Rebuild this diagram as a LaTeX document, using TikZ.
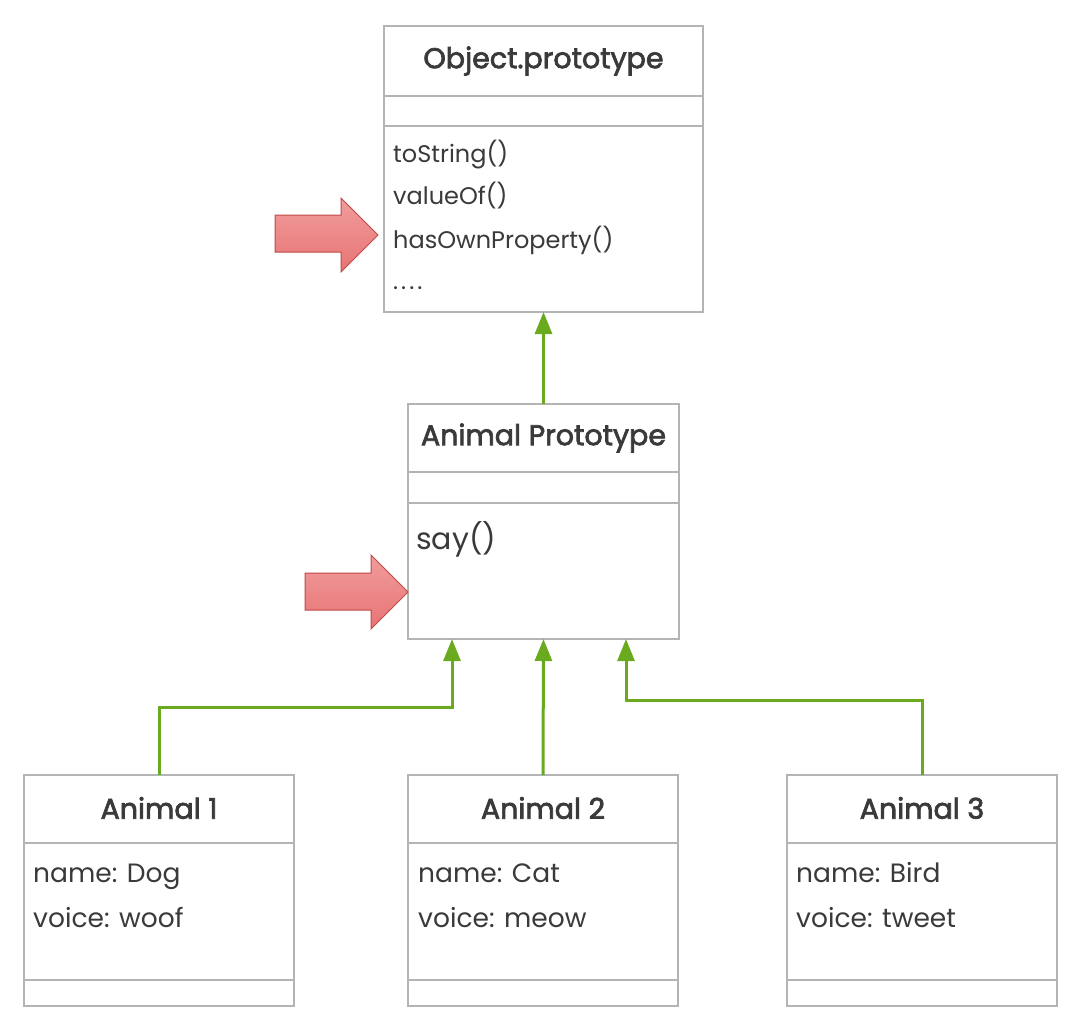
\documentclass[tikz,border=0pt]{standalone}
\usepackage{fontspec}
\setmainfont{Poppins}
\newfontfamily\titlefont[FakeBold=2.5]{Poppins}
\usetikzlibrary{arrows.meta,calc}
\definecolor{boxgray}{HTML}{B4B4B4}
\definecolor{txt}{HTML}{3A3A3A}
\definecolor{conngreen}{HTML}{6AAA1E}
\definecolor{redfill}{HTML}{E87474}
\definecolor{redtop}{HTML}{F19C9C}
\definecolor{redline}{HTML}{C04848}
\begin{document}
\begin{tikzpicture}[x=1pt,y=-1pt,
  umlbox/.style={draw=boxgray,line width=2pt,inner sep=0pt,outer sep=0pt,anchor=north west,fill=white},
  divider/.style={draw=boxgray,line width=2pt},
  title/.style={text=txt,font=\fontsize{28.5}{34}\titlefont,inner sep=0pt},
  member/.style={text=txt,font=\fontsize{24}{28}\selectfont,inner sep=0pt,anchor=base west},
  field/.style={member,font=\fontsize{26.5}{30}\selectfont},
  conn/.style={draw=conngreen,line width=3pt,-{Triangle[length=22pt,width=17pt]}},
  redarrow/.style={draw=redline,line width=1pt,top color=redtop,bottom color=redfill,line join=miter}
]
\useasboundingbox (0,0) rectangle (1074,1034);

% Object.prototype
\node[umlbox,minimum width=319pt,minimum height=286pt] (obj) at (384,26) {};
\draw[divider] ([yshift=-70pt]obj.north west) -- ([yshift=-70pt]obj.north east);
\draw[divider] ([yshift=-100pt]obj.north west) -- ([yshift=-100pt]obj.north east);
\node[title] (objt) at (543.5,61) {Object.prototype};
\node[member] (m1) at (393,162) {toString()};
\node[member] (m2) at (393,204) {valueOf()};
\node[member] (m3) at (393,248) {hasOwnProperty()};
\node[member] (m4) at (393,289) {.\kern3pt.\kern3pt.\kern3pt.};

% Animal Prototype
\node[umlbox,minimum width=271pt,minimum height=235pt] (ap) at (408,404) {};
\draw[divider] ([yshift=-68pt]ap.north west) -- ([yshift=-68pt]ap.north east);
\draw[divider] ([yshift=-99pt]ap.north west) -- ([yshift=-99pt]ap.north east);
\node[title] (apt) at (543.5,438) {Animal Prototype};
\node[member,font=\fontsize{30}{34}\selectfont] (say) at (416,549) {say()};

% Animals
\foreach \n/\x/\nm/\vc/\tx in {1/24/Dog/woof/33, 2/408/Cat/meow/418, 3/787/Bird/tweet/796}{
  \node[umlbox,minimum width=270pt,minimum height=231pt] (a\n) at (\x,775) {};
  \draw[divider] ([yshift=-68pt]a\n.north west) -- ([yshift=-68pt]a\n.north east);
  \draw[divider] ([yshift=-205pt]a\n.north west) -- ([yshift=-205pt]a\n.north east);
  \node[title] (a\n t) at ($(a\n.north)+(0,33)$) {Animal \n};
  \node[field] (a\n n) at (\tx,882.5) {name: \nm};
  \node[field] (a\n v) at (\tx,927.5) {voice: \vc};
}

% connectors
\draw[conn] (ap.north) -- (obj.south);
\coordinate (k1) at (452,707);
\coordinate (k3) at (626,700);
\draw[conn] (a1.north) |- (k1) -- (ap.south -| k1);
\draw[conn] (a2.north) -- (ap.south);
\draw[conn] (a3.north) |- (k3) -- (ap.south -| k3);

% red block arrows
\draw[redarrow] (275,215) -- (341,215) -- (341,198) -- (378,235) -- (341,272) -- (341,252) -- (275,252) -- cycle;
\draw[redarrow] (305,573) -- (371,573) -- (371,555) -- (408,592) -- (371,629) -- (371,610) -- (305,610) -- cycle;
\end{tikzpicture}
\end{document}
